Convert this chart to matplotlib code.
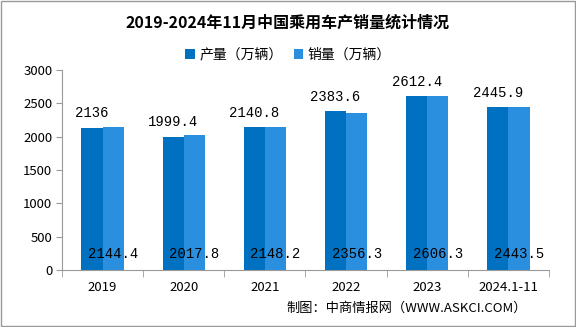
import matplotlib
matplotlib.use('agg')
import matplotlib.pyplot as plt
import numpy as np

plt.rcParams['font.family'] = ['Noto Sans CJK SC', 'DejaVu Sans']

# Data
years = ['2019', '2020', '2021', '2022', '2023', '2024.1-11']
production = [2136, 1999.4, 2140.8, 2383.6, 2612.4, 2445.9]
sales = [2144.4, 2017.8, 2148.2, 2356.3, 2606.3, 2443.5]
prod_labels = ['2136', '1999.4', '2140.8', '2383.6', '2612.4', '2445.9']
sales_labels = ['2144.4', '2017.8', '2148.2', '2356.3', '2606.3', '2443.5']

dark = '#0070C0'
light = '#2B8FE0'

fig = plt.figure(figsize=(5.76, 3.27), dpi=100)
ax = fig.add_axes([62 / 576, 57 / 327, 487 / 576, 200 / 327])

x = np.arange(len(years))
w = 0.26
ax.bar(x - w / 2, production, w, color=dark, label='产量（万辆）')
ax.bar(x + w / 2, sales, w, color=light, label='销量（万辆）')

# value labels: production above bars, sales near the bottom
for i in range(len(years)):
    ax.text(x[i] - w / 2, production[i] + 110, prod_labels[i], ha='center', va='bottom',
            fontsize=10, family='Liberation Mono')
    ax.text(x[i] + w / 2, 240, sales_labels[i], ha='center', va='center',
            fontsize=10, family='Liberation Mono')

ax.set_xlim(-0.5, len(years) - 0.5)
ax.set_ylim(0, 3000)
ax.set_yticks(np.arange(0, 3001, 500))
ax.set_xticks(x)
ax.set_xticklabels(years)
ax.set_xticks(np.arange(-0.5, len(years), 1), minor=True)
ax.tick_params(axis='x', which='major', length=0, pad=8, labelsize=9.5)
ax.tick_params(axis='x', which='minor', length=5, color='#999999')
ax.tick_params(axis='y', length=4, color='#999999', labelsize=9.5, pad=3)
for s in ['top', 'right']:
    ax.spines[s].set_visible(False)
for s in ['left', 'bottom']:
    ax.spines[s].set_color('#999999')

fig.text(0.5, 0.93, '2019-2024年11月中国乘用车产销量统计情况', ha='center', va='center',
         fontsize=11.5, fontweight='bold')
fig.legend(loc='center', bbox_to_anchor=(0.5, 0.832), ncol=2, frameon=False,
           fontsize=10, handlelength=0.7, handleheight=0.7, columnspacing=0.8,
           handletextpad=0.3)
fig.text(0.915, 0.058, '制图：中商情报网（WWW.ASKCI.COM）', ha='right', va='center',
         fontsize=9.5)

# grey frame around the figure
fig.patches.append(plt.Rectangle((0.001, 0.002), 0.997, 0.995, transform=fig.transFigure,
                                 fill=False, edgecolor='#999999', linewidth=1))

plt.savefig('out.png', dpi=100)
plt.close()
